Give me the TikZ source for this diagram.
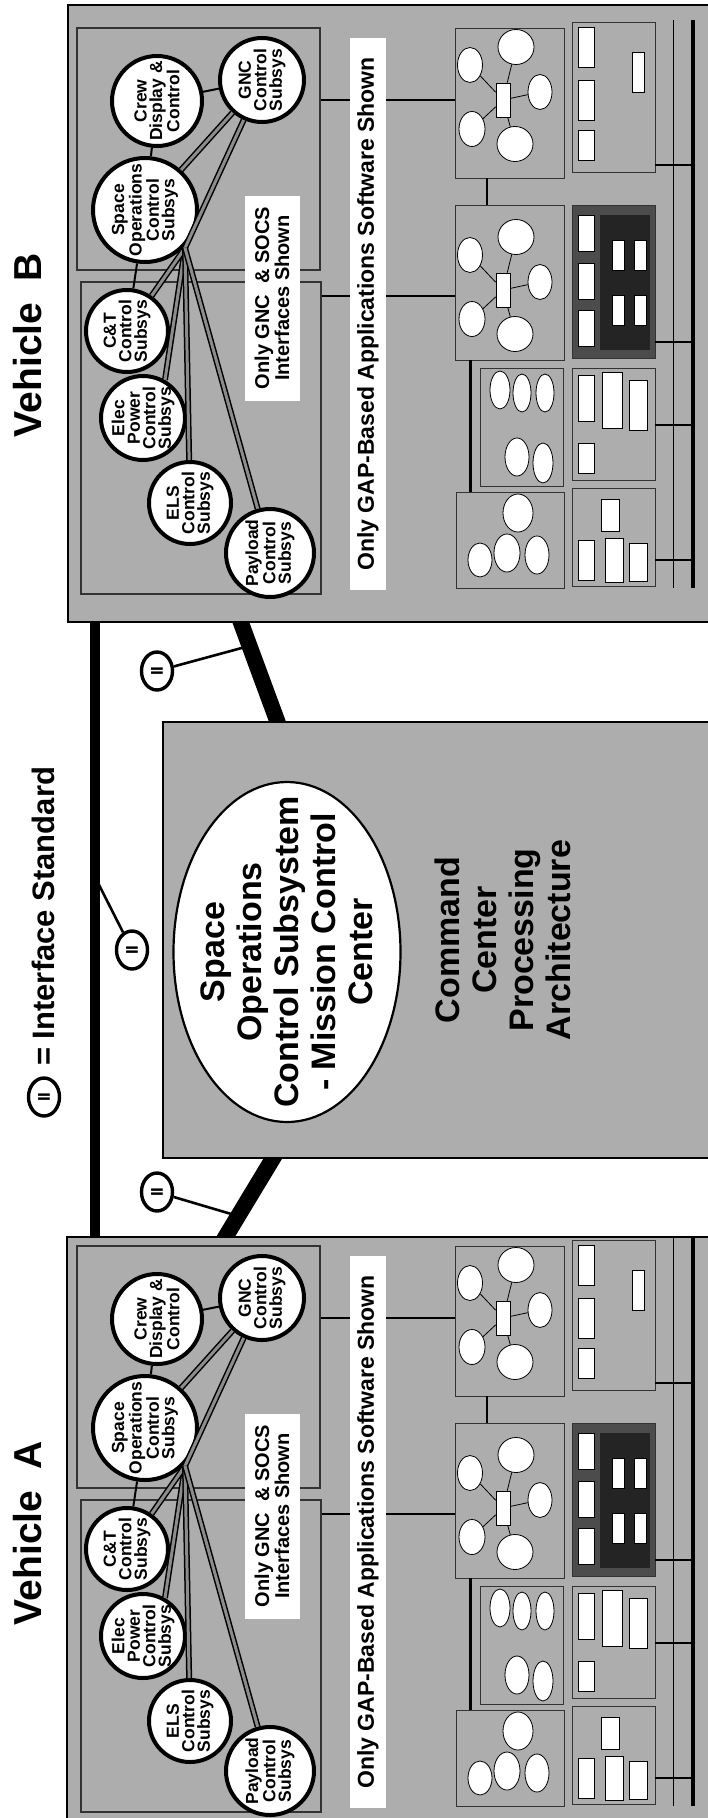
\documentclass[tikz,border=0pt]{standalone}
\usepackage{fontspec}
\setmainfont{Liberation Sans}
\usetikzlibrary{shapes.geometric}
\pgfdeclarelayer{back}
\pgfsetlayers{back,main}
\definecolor{dither}{gray}{0.68}
\definecolor{deepdither}{gray}{0.30}
\definecolor{coredither}{gray}{0.14}
\tikzset{
  veh box/.style={draw=black,line width=1.6pt,fill=dither,inner sep=0pt},
  frame box/.style={draw=black!80,line width=1.1pt,inner sep=0pt},
  panel box/.style={draw=black!80,line width=0.9pt,inner sep=0pt},
  subsys/.style={circle,draw=black,line width=4pt,fill=white,inner sep=-6pt,
    minimum size=#1,rotate=90,align=center,
    font=\bfseries\fontsize{17.5}{15.5}\selectfont},
  subsys/.default=88pt,
  white strip/.style={fill=white,inner sep=0pt,rotate=90,align=center},
  plain link/.style={line width=2pt},
  iface link/.style={line width=1.5pt,double=black!45,double distance=3pt},
  trunk/.style={line width=16pt},
  spur/.style={line width=2.6pt},
  iface sym/.style={ellipse,draw=black,line width=3.4pt,fill=white,inner sep=0pt,
    minimum width=38pt,minimum height=31pt,rotate=90,
    font=\bfseries\fontsize{17}{17}\selectfont},
  big label/.style={rotate=90,align=center,inner sep=0pt,
    font=\bfseries\fontsize{34}{37}\selectfont},
  title/.style={rotate=90,inner sep=0pt,font=\bfseries\fontsize{39}{39}\selectfont},
  tiny oval/.style={ellipse,draw=black,line width=0.8pt,fill=white,inner sep=0pt},
  tiny card/.style={rectangle,draw=black,line width=0.7pt,fill=white,inner sep=0pt},
  tiny link/.style={line width=0.8pt}
}
% one vehicle: #1 = vertical offset, #2 = prefix of the node names
\newcommand{\vehiclecontent}[2]{%
  \begin{scope}[shift={(0,#1)}]
    % frames round the control subsystems
    \node[frame box,minimum width=243pt,minimum height=242pt] (#2top) at (198.5,149) {};
    \node[frame box,minimum width=240pt,minimum height=312pt] (#2low) at (201,438) {};
    % application software panels
    \node[panel box,minimum width=109pt,minimum height=150pt] (#2net1) at (509.5,103) {};
    \node[panel box,minimum width=109pt,minimum height=155pt] (#2net2) at (509.5,282.5) {};
    \node[panel box,minimum width=83pt,minimum height=118pt] (#2net3) at (521.5,427) {};
    \node[panel box,minimum width=108pt,minimum height=96pt] (#2net4) at (510,540) {};
    \node[panel box,minimum width=83pt,minimum height=150pt] (#2rack1) at (613.5,97) {};
    \node[panel box,fill=deepdither,minimum width=83pt,minimum height=153pt] (#2rack2) at (613.5,281.5) {};
    \node[panel box,minimum width=83pt,minimum height=112pt] (#2rack3) at (613.5,424) {};
    \node[panel box,minimum width=83pt,minimum height=98pt] (#2rack4) at (613.5,537) {};
    \node[fill=coredither,inner sep=0pt,minimum width=50pt,minimum height=135pt] (#2core) at (625,282) {};
    \coordinate (#2bbtop) at (693,20);
    \coordinate (#2bbend) at (693,588);
    \coordinate (#2tltop) at (673,20);
    \coordinate (#2tlend) at (673,588);
    \draw[line width=4pt] (#2bbtop) -- (#2bbend);
    \draw[line width=1pt] (#2tltop) -- (#2tlend);
    \foreach \r/\yy in {1/165,2/342,3/425,4/560}
      \draw[line width=1.4pt] (#2rack\r.east |- 0,\yy) -- (#2bbtop |- 0,\yy);
    \draw[line width=1.4pt] (#2net1.south -| 487,0) -- (#2net2.north -| 487,0);
    \draw[line width=3pt] (#2net2.south -| 470,0) -- (#2net4.north -| 470,0);
    \draw[line width=1.4pt] (#2top.east |- 0,100) -- (#2net1.west |- 0,100);
    \draw[line width=1.4pt] (#2low.east |- 0,296) -- (#2net2.west |- 0,296);
    % network clusters
    \foreach \hy [count=\c] in {100,290}{
      \node[tiny card,minimum width=14pt,minimum height=34pt] (#2hub\c) at (503,\hy) {};
      \foreach \dx/\dy/\w [count=\k] in {-33/-35/25,13/-53/36,37/-8/24,12/44/36,-31/29/26}{
        \node[tiny oval,minimum width=\w pt,minimum height=35pt] (#2o\c-\k) at ({503+\dx},{\hy+\dy}) {};
        \draw[tiny link] (#2hub\c) -- (#2o\c-\k);
      }
    }
    \foreach \cx/\cy/\w/\h [count=\k] in {500/390/20/38,522/393/18/38,545/393/18/38,
        517/457/24/38,543/463/20/40,480/560/24/34,507/553/26/38,537/555/24/38,518/513/30/38}
      \node[tiny oval,minimum width=\w pt,minimum height=\h pt] (#2p\k) at (\cx,\cy) {};
    \foreach \cx/\cy/\w/\h [count=\k] in {586/47/16/40,586/100/16/40,586/145/16/30,638/72/12/40,
        586/233/16/36,586/281/16/36,586/328/16/36,618/255/12/30,640/255/12/30,618/310/12/30,640/310/12/30,
        586/398/16/46,612/400/20/56,638/405/18/50,586/458/16/30,
        586/560/16/40,610/515/18/32,614/560/18/44,638/562/18/38}
      \node[tiny card,minimum width=\w pt,minimum height=\h pt] (#2card\k) at (\cx,\cy) {};
    % notes
    \node[white strip,minimum width=552pt,minimum height=36pt,
      font=\bfseries\fontsize{23}{23}\selectfont] (#2gapnote) at (368,314)
      {Only GAP-Based Applications Software Shown};
    \node[white strip,minimum width=205pt,minimum height=55pt,
      font=\bfseries\fontsize{20}{20}\selectfont] (#2gncnote) at (272,298)
      {Only GNC~ \& SOCS\\Interfaces Shown};
    % control subsystems
    \node[subsys=90pt] (#2crew) at (157,101) {Crew\\Display \&\\Control};
    \node[subsys=84pt] (#2gnc) at (262,80) {GNC\\Control\\Subsys};
    \node[subsys=104pt] (#2socs) at (145,210) {Space\\Operations\\Control\\Subsys};
    \node[subsys=82pt] (#2ct) at (127,331) {C\&T\\Control\\Subsys};
    \node[subsys=84pt] (#2elec) at (143,418) {Elec\\Power\\Control\\Subsys};
    \node[subsys=82pt] (#2els) at (190,503) {ELS\\Control\\Subsys};
    \node[subsys=88pt] (#2pay) at (270,553) {Payload\\Control\\Subsys};
    \coordinate (#2hub) at (185,248);
    \draw[plain link] (#2socs) -- (#2crew);
    \draw[plain link] (#2crew) -- (#2gnc);
    \draw[plain link] (#2socs) -- (#2ct);
    \draw[iface link] (#2socs) -- (#2gnc);
    \draw[iface link] (#2hub) -- (#2elec.-30);
    \foreach \t in {gnc,ct,els,pay}
      \draw[iface link] (#2hub) -- (#2\t);
  \end{scope}}

\begin{document}
\begin{tikzpicture}[x=1pt,y=-1pt]
  \useasboundingbox (0,0) rectangle (708,1818);
  % the two vehicles and the command center
  \node[veh box,minimum width=644pt,minimum height=617pt] (vehB) at (390,313.5) {};
  \node[veh box,minimum width=645pt,minimum height=583pt] (vehA) at (389.5,1528.5) {};
  \node[veh box,minimum width=549pt,minimum height=436pt] (ccp) at (437.5,940) {};
  \vehiclecontent{0}{B}
  \vehiclecontent{1218}{A}
  \node[title] (titleB) at (28,345) {Vehicle~ B};
  \node[title] (titleA) at (28,1533) {Vehicle~ A};
  % mission control
  \node[ellipse,draw=black,line width=2.2pt,fill=white,inner sep=0pt,
    minimum width=227pt,minimum height=340pt] (mcc) at (287,952) {};
  \node[big label] (mcctext) at (mcc) {Space\\Operations\\Control Subsystem\\- Mission Control\\Center};
  \node[big label] (ccptext) at (503,940) {Command\\Center\\Processing\\Architecture};
  % interface standard
  \node[iface sym] (symtop) at (157,671) {II};
  \node[iface sym] (symbus) at (132,950) {II};
  \node[iface sym] (symlow) at (157,1192) {II};
  \node[iface sym] (symkey) at (44,1097) {II};
  \node[rotate=90,anchor=west,inner sep=0pt,font=\bfseries\fontsize{31}{31}\selectfont]
    (keytext) at (43,1066) {= Interface Standard};
  \coordinate (busN) at (95,612);
  \coordinate (busS) at (95,1247);
  \coordinate (upN) at (237,612);
  \coordinate (upS) at (282,734);
  \coordinate (lowN) at (278,1150);
  \coordinate (lowS) at (220,1246);
  \coordinate (tapup) at (249,646);
  \coordinate (tapbus) at (95,877);
  \coordinate (taplow) at (238,1216);
  \begin{pgfonlayer}{back}
    \draw[spur] (symtop) -- (tapup);
    \draw[spur] (symbus) -- (tapbus);
    \draw[spur] (symlow) -- (taplow);
    \draw[trunk] (upN) -- (upS);
    \draw[trunk] (lowN) -- (lowS);
    \draw[line width=10pt] (busN) -- (busS);
  \end{pgfonlayer}
\end{tikzpicture}
\end{document}
